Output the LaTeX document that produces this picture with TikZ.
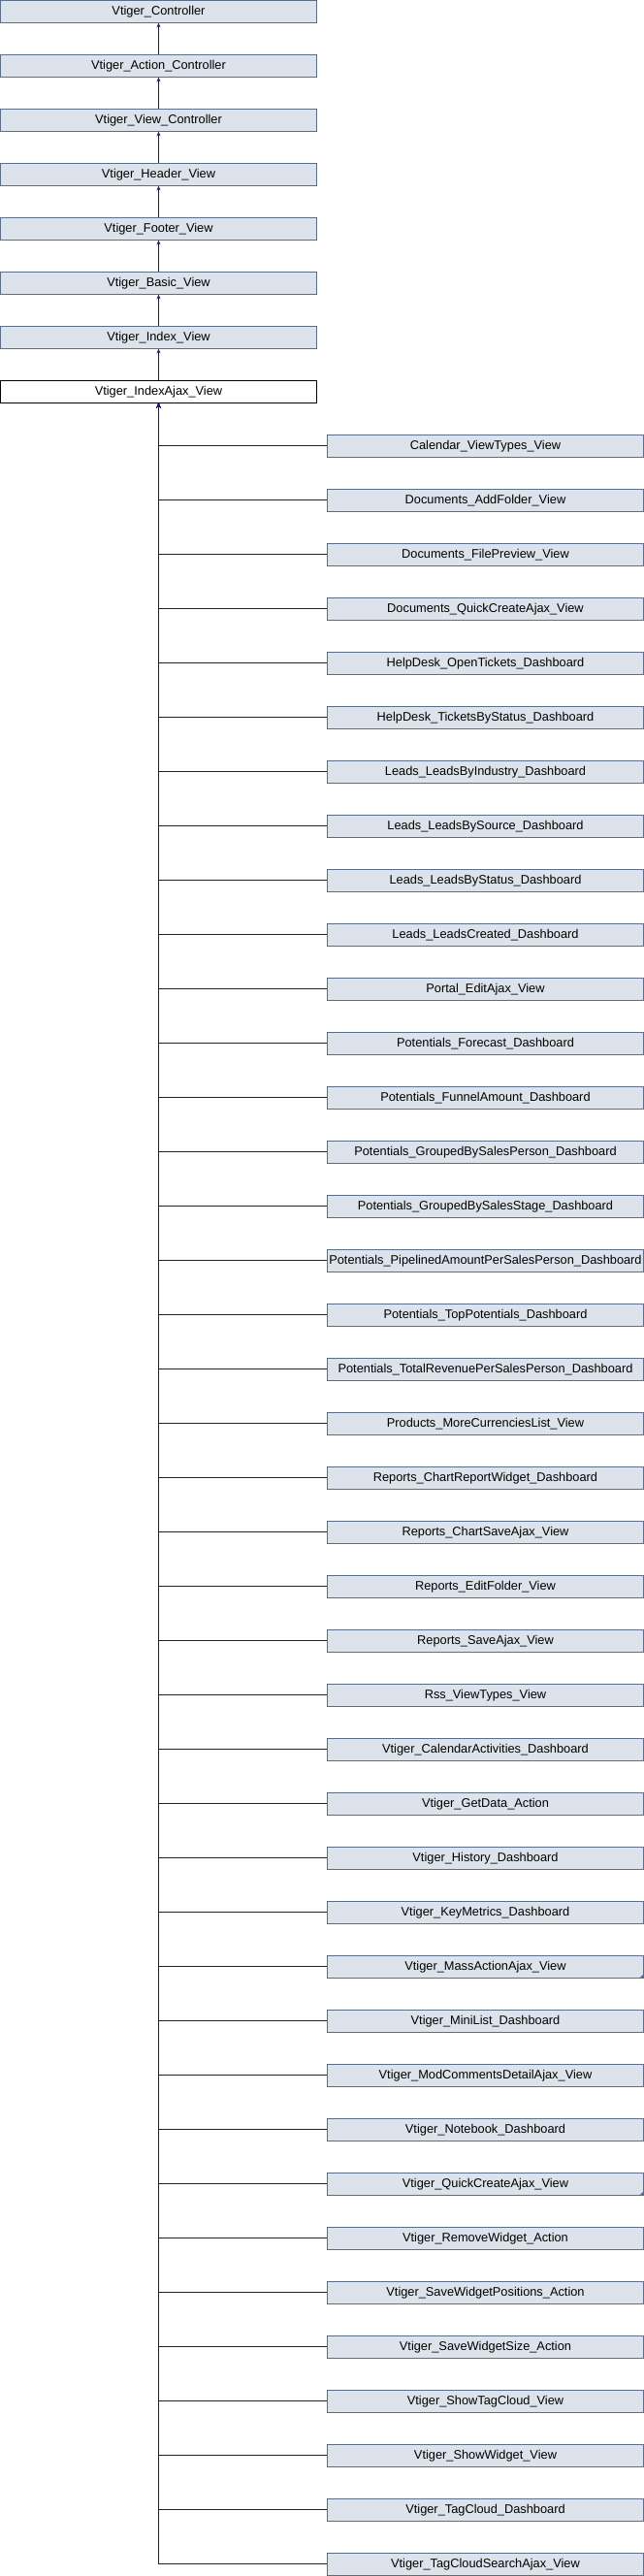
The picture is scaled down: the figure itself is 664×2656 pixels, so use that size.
\documentclass[tikz,border=0pt]{standalone}
\usepackage{fontspec}
\setmainfont{Liberation Sans}
\usetikzlibrary{arrows.meta}
\definecolor{boxfill}{RGB}{220,227,235}
\definecolor{boxline}{RGB}{90,110,140}
\definecolor{edgecol}{RGB}{20,20,140}
\tikzset{
  cls/.style={draw=boxline, fill=boxfill, line width=1pt, rectangle, minimum width=326pt, minimum height=23pt, inner sep=0pt, font=\fontsize{12.8}{14}\selectfont, text=black},
  cur/.style={cls, draw=black, fill=white},
  edge/.style={draw=edgecol, line width=1pt, -{Stealth[length=4.5pt,width=4pt]}},
  corner/.style={fill=boxline}
}
\begin{document}
\begin{tikzpicture}[x=1pt,y=1pt]
\useasboundingbox (0,0) rectangle (664,-2656);
\fill[white] (0,0) rectangle (664,-2656);
% parent chain
\foreach \n/\t [count=\i from 0] in {p0/Vtiger\_Controller, p1/Vtiger\_Action\_Controller, p2/Vtiger\_View\_Controller, p3/Vtiger\_Header\_View, p4/Vtiger\_Footer\_View, p5/Vtiger\_Basic\_View, p6/Vtiger\_Index\_View}{
  \node[cls] (\n) at (163.5,{-(56*\i+11.8)}) {\t};
}
\node[cur] (ia) at (163.5,{-(56*7+11.8)}) {Vtiger\_IndexAjax\_View};
\draw[edge] (p1.north) -- (p0.south);
\draw[edge] (p2.north) -- (p1.south);
\draw[edge] (p3.north) -- (p2.south);
\draw[edge] (p4.north) -- (p3.south);
\draw[edge] (p5.north) -- (p4.south);
\draw[edge] (p6.north) -- (p5.south);
\draw[edge] (ia.north) -- (p6.south);
% children
\foreach \t [count=\i from 0] in {
Calendar\_ViewTypes\_View,
Documents\_AddFolder\_View,
Documents\_FilePreview\_View,
Documents\_QuickCreateAjax\_View,
HelpDesk\_OpenTickets\_Dashboard,
HelpDesk\_TicketsByStatus\_Dashboard,
Leads\_LeadsByIndustry\_Dashboard,
Leads\_LeadsBySource\_Dashboard,
Leads\_LeadsByStatus\_Dashboard,
Leads\_LeadsCreated\_Dashboard,
Portal\_EditAjax\_View,
Potentials\_Forecast\_Dashboard,
Potentials\_FunnelAmount\_Dashboard,
Potentials\_GroupedBySalesPerson\_Dashboard,
Potentials\_GroupedBySalesStage\_Dashboard,
Potentials\_PipelinedAmountPerSalesPerson\_Dashboard,
Potentials\_TopPotentials\_Dashboard,
Potentials\_TotalRevenuePerSalesPerson\_Dashboard,
Products\_MoreCurrenciesList\_View,
Reports\_ChartReportWidget\_Dashboard,
Reports\_ChartSaveAjax\_View,
Reports\_EditFolder\_View,
Reports\_SaveAjax\_View,
Rss\_ViewTypes\_View,
Vtiger\_CalendarActivities\_Dashboard,
Vtiger\_GetData\_Action,
Vtiger\_History\_Dashboard,
Vtiger\_KeyMetrics\_Dashboard,
Vtiger\_MassActionAjax\_View,
Vtiger\_MiniList\_Dashboard,
Vtiger\_ModCommentsDetailAjax\_View,
Vtiger\_Notebook\_Dashboard,
Vtiger\_QuickCreateAjax\_View,
Vtiger\_RemoveWidget\_Action,
Vtiger\_SaveWidgetPositions\_Action,
Vtiger\_SaveWidgetSize\_Action,
Vtiger\_ShowTagCloud\_View,
Vtiger\_ShowWidget\_View,
Vtiger\_TagCloud\_Dashboard,
Vtiger\_TagCloudSearchAjax\_View}{
  \node[cls] (c\i) at (500.5,{-(56*(\i+8)+11.8)}) {\t};
  \draw[edge] (c\i.west) -| (ia.south);
}
% corner markers (classes with further subclasses)
\fill[corner] (c28.south east) -- ++(-5,0) -- ++(5,5) -- cycle;
\fill[corner] (c32.south east) -- ++(-5,0) -- ++(5,5) -- cycle;
\end{tikzpicture}
\end{document}
